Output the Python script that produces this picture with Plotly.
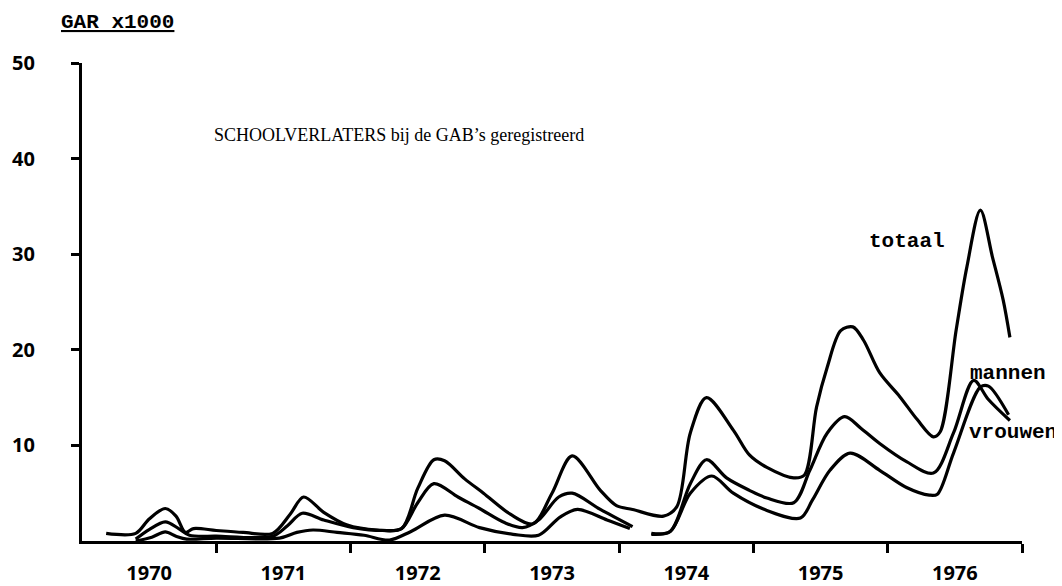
import plotly.graph_objects as go

# ---- data, values in thousands ----
years = [1970, 1971, 1972, 1973, 1974, 1975, 1976]
year_labels = ["1970", "1971", "1972", "1973", "1974", "1975", "1976"]
y_ticks = [10, 20, 30, 40, 50]
y_tick_labels = ["10", "20", "30", "40", "50"]

totaal_t = [1970.18, 1970.40, 1970.50, 1970.62, 1970.70, 1970.77, 1970.83, 1971.00, 1971.20,
            1971.42, 1971.55, 1971.65, 1971.80, 1971.97, 1972.20, 1972.38, 1972.50, 1972.62,
            1972.70, 1972.85, 1972.99, 1973.19, 1973.36, 1973.50, 1973.65, 1973.86, 1973.98,
            1974.10, 1974.33, 1974.43, 1974.53, 1974.65, 1974.85, 1974.97, 1975.10, 1975.30,
            1975.38, 1975.47, 1975.55, 1975.65, 1975.74, 1975.82, 1975.94, 1976.09, 1976.22,
            1976.34, 1976.39, 1976.51, 1976.59, 1976.69, 1976.78, 1976.86, 1976.91]
totaal_v = [0.8, 0.8, 2.3, 3.4, 2.6, 0.9, 1.3, 1.1, 0.9,
            0.8, 2.8, 4.6, 3.0, 1.7, 1.15, 1.3, 5.5, 8.5,
            8.4, 6.5, 5.0, 2.8, 1.8, 5.0, 8.9, 5.3, 3.7,
            3.3, 2.6, 3.6, 11.3, 15.0, 11.6, 9.0, 7.7, 6.6,
            6.9, 14.0, 18.2, 22.0, 22.4, 21.0, 17.6, 15.1, 12.7,
            10.9, 11.4, 22.1, 28.7, 34.6, 29.7, 25.2, 21.3]

mannen_t = [1970.40, 1970.50, 1970.62, 1970.72, 1970.80, 1971.00, 1971.42, 1971.53, 1971.64,
            1971.80, 1972.02, 1972.25, 1972.38, 1972.50, 1972.62, 1972.80, 1972.96, 1973.15,
            1973.28, 1973.40, 1973.55, 1973.65, 1973.86, 1974.10, 1974.17, 1974.24, 1974.38,
            1974.53, 1974.65, 1974.80, 1974.97, 1975.10, 1975.30, 1975.42, 1975.55, 1975.68,
            1975.80, 1975.94, 1976.14, 1976.34, 1976.49, 1976.64, 1976.75, 1976.91]
mannen_v = [0.2, 1.2, 2.0, 1.3, 0.6, 0.5, 0.5, 1.6, 2.9,
            2.2, 1.4, 1.1, 1.3, 4.0, 6.0, 4.6, 3.4, 1.9,
            1.4, 2.2, 4.6, 5.0, 3.3, 1.5, None, 0.8, 1.0,
            6.0, 8.5, 6.6, 5.3, 4.5, 4.0, 7.4, 11.3, 13.0,
            11.8, 10.2, 8.3, 7.1, 11.3, 16.8, 14.8, 12.6]

vrouwen_t = [1970.40, 1970.52, 1970.62, 1970.70, 1970.78, 1971.00, 1971.47, 1971.60, 1971.72,
             1971.90, 1972.10, 1972.29, 1972.45, 1972.70, 1972.96, 1973.21, 1973.40, 1973.56,
             1973.69, 1973.91, 1974.08, 1974.16, 1974.24, 1974.38, 1974.53, 1974.69, 1974.85,
             1975.10, 1975.35, 1975.44, 1975.57, 1975.72, 1975.94, 1976.14, 1976.31, 1976.37,
             1976.49, 1976.69, 1976.75, 1976.90]
vrouwen_v = [0.0, 0.4, 0.95, 0.5, 0.2, 0.3, 0.3, 0.9, 1.15,
             0.9, 0.6, 0.1, 1.0, 2.7, 1.4, 0.7, 0.6, 2.5,
             3.3, 2.2, 1.3, None, 0.7, 1.0, 5.0, 6.8, 5.0,
             3.2, 2.4, 4.3, 7.4, 9.2, 7.4, 5.6, 4.8, 4.9,
             9.2, 16.1, 16.2, 13.2]

LINE = dict(color="black", width=3.2, shape="spline", smoothing=0.9)

fig = go.Figure()
for name, t, v in [("totaal", totaal_t, totaal_v),
                   ("mannen", mannen_t, mannen_v),
                   ("vrouwen", vrouwen_t, vrouwen_v)]:
    fig.add_trace(go.Scatter(x=t, y=v, mode="lines", name=name, line=LINE,
                             connectgaps=False, showlegend=False))

tick_font = dict(family="Noto Sans, DejaVu Sans, sans-serif", size=20, color="black", weight="bold")
mono = dict(family="Liberation Mono, Courier New, monospace", size=21, color="black", weight="bold")

# the page body has an 8px default margin, so the figure is 8px smaller on each axis
fig.update_layout(
    width=1054, height=578, autosize=False,
    margin=dict(l=74, r=40, t=55, b=45),
    paper_bgcolor="white", plot_bgcolor="white",
    xaxis=dict(
        range=[1970.0, 1977.0], automargin=False,
        showline=True, linecolor="black", linewidth=3,
        showgrid=False, zeroline=False,
        tickmode="array",
        tickvals=[y + 0.5 for y in years], ticktext=year_labels,
        ticks="", tickfont=tick_font, ticklabelstandoff=12,
        minor=dict(tickmode="array", tickvals=[y + 1 for y in years],
                   ticks="outside", ticklen=9, tickwidth=3, tickcolor="black",
                   showgrid=False),
    ),
    yaxis=dict(
        range=[0, 50], automargin=False,
        showline=True, linecolor="black", linewidth=3,
        showgrid=False, zeroline=False,
        tickmode="array", tickvals=y_ticks, ticktext=y_tick_labels,
        ticks="outside", ticklen=8, tickwidth=3, tickcolor="black",
        tickfont=tick_font, ticklabelstandoff=32,
    ),
    annotations=[
        dict(text="<u>GAR x1000</u>", xref="paper", yref="paper", x=0.038, y=1.084,
             showarrow=False, font=mono, xanchor="center", yanchor="middle"),
        dict(text="SCHOOLVERLATERS bij de GAB\u2019s geregistreerd", xref="paper", yref="paper",
             x=0.337, y=0.849, showarrow=False, xanchor="center", yanchor="middle",
             font=dict(family="Liberation Serif, Times New Roman, serif", size=18, color="black")),
        dict(text="totaal", xref="paper", yref="paper", x=0.878, y=0.626,
             showarrow=False, font=mono, xanchor="center", yanchor="middle"),
        dict(text="mannen", xref="paper", yref="paper", x=0.985, y=0.351,
             showarrow=False, font=mono, xanchor="center", yanchor="middle"),
        dict(text="vrouwen", xref="paper", yref="paper", x=0.990, y=0.228,
             showarrow=False, font=mono, xanchor="center", yanchor="middle"),
    ],
)

fig.write_html("out.html")
